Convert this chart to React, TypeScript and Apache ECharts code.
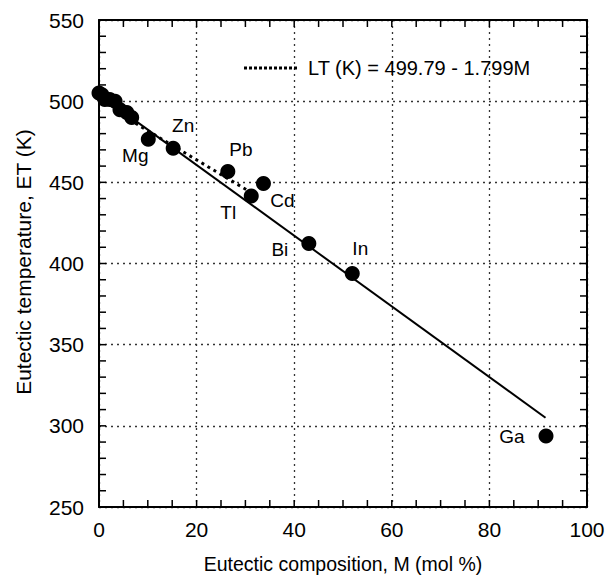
import React, { useEffect, useRef } from "react";
import * as echarts from "echarts";

// Unlabelled points near M = 0
const clusterM = [0.0, 0.6, 1.2, 2.2, 3.3, 4.3, 5.7, 6.7];
const clusterET = [505, 504, 501, 501, 500, 494.7, 493, 490];

// Labelled elements
const elements = ["Mg", "Zn", "Pb", "Cd", "Tl", "Bi", "In", "Ga"];
const elemM = [10.1, 15.2, 26.4, 33.7, 31.2, 43.0, 51.9, 91.6];
const elemET = [476.6, 471, 456.7, 449.3, 441.6, 412.3, 393.8, 293.8];
const labelOffsets: [number, number][] = [
  [-13, 16], [10, -23], [13, -22], [19, 17], [-23, 17], [-29, 6], [8, -25], [-34, 1],
];

// Solid fitted line endpoints
const solidM = [0, 91.5];
const solidET = [504.2, 305];
// Dotted line LT(K) = 499.79 - 1.799M endpoints
const dottedM = [5, 31.8];
const dottedET = [490.8, 442.6];

const xTicks = [0, 20, 40, 60, 80, 100];
const yTicks = [250, 300, 350, 400, 450, 500, 550];
// Inward tick marks on all four sides of the frame
const xTickMarks = [5, 10, 15, 20, 25, 30, 35, 40, 45, 50, 55, 60, 65, 70, 75, 80, 85, 90, 95];
const yTickMarks = [260, 270, 280, 290, 300, 310, 320, 330, 340, 350, 360, 370, 380, 390, 400,
  410, 420, 430, 440, 450, 460, 470, 480, 490, 500, 510, 520, 530, 540];

const FONT = "'Liberation Sans', Arial, Helvetica, sans-serif";
const TICK_LEN = 7;

export default function App() {
  const ref = useRef<HTMLDivElement>(null);
  useEffect(() => {
    if (!ref.current) return;
    const chart = echarts.init(ref.current, null, { renderer: "svg" });
    const gridLine = { show: true, lineStyle: { color: "#333", type: [2, 4], width: 1.3 } };
    const frameLine = { show: true, onZero: false, lineStyle: { color: "#000", width: 2 } };
    const xMin = xTicks[0];
    const xMax = xTicks[xTicks.length - 1];
    const yMin = yTicks[0];
    const yMax = yTicks[yTicks.length - 1];
    chart.setOption({
      animation: false,
      backgroundColor: "#fff",
      textStyle: { fontFamily: FONT },
      grid: { left: 99, top: 20, width: 488, height: 487, outerBoundsMode: "none" },
      xAxis: [
        {
          type: "value",
          min: xMin,
          max: xMax,
          interval: 20,
          axisLine: frameLine,
          axisTick: { show: false },
          axisLabel: { fontSize: 21, color: "#000", margin: 12, fontFamily: FONT },
          splitLine: gridLine,
          name: "Eutectic composition, M (mol %)",
          nameLocation: "middle",
          nameGap: 47,
          nameTextStyle: { fontSize: 19.5, color: "#000", fontFamily: FONT },
        },
        {
          type: "value",
          position: "top",
          min: xMin,
          max: xMax,
          interval: 20,
          axisLine: frameLine,
          axisTick: { show: false },
          axisLabel: { show: false },
          splitLine: { show: false },
        },
      ],
      yAxis: [
        {
          type: "value",
          min: yMin,
          max: yMax,
          interval: 50,
          axisLine: frameLine,
          axisTick: { show: false },
          axisLabel: { fontSize: 21, color: "#000", margin: 15, fontFamily: FONT },
          splitLine: gridLine,
        },
        {
          type: "value",
          position: "right",
          min: yMin,
          max: yMax,
          interval: 50,
          axisLine: frameLine,
          axisTick: { show: false },
          axisLabel: { show: false },
          splitLine: { show: false },
        },
      ],
      series: [
        {
          type: "line",
          data: solidM.map((m, i) => [m, solidET[i]]),
          symbol: "none",
          lineStyle: { color: "#000", width: 2 },
          z: 3,
        },
        {
          type: "line",
          data: dottedM.map((m, i) => [m, dottedET[i]]),
          symbol: "none",
          lineStyle: { color: "#000", width: 3, type: [3, 4] },
          z: 3,
        },
        {
          type: "scatter",
          data: clusterM.map((m, i) => [m, clusterET[i]]),
          symbolSize: 15,
          itemStyle: { color: "#000", opacity: 1 },
          z: 4,
        },
        {
          type: "scatter",
          data: elements.map((name, i) => ({
            value: [elemM[i], elemET[i]],
            name,
            label: {
              show: true,
              position: "inside",
              offset: labelOffsets[i],
              formatter: name,
              color: "#000",
              fontSize: 19,
              fontFamily: FONT,
            },
          })),
          symbolSize: 15,
          itemStyle: { color: "#000", opacity: 1 },
          z: 4,
        },
      ],
    });

    // Inward ticks on all four sides, positioned through the chart's own scales
    const tickStyle = { stroke: "#000", lineWidth: 1.5 };
    const ticks: any[] = [];
    xTickMarks.forEach((v) => {
      const b = chart.convertToPixel({ gridIndex: 0 }, [v, yMin]) as number[];
      const t = chart.convertToPixel({ gridIndex: 0 }, [v, yMax]) as number[];
      ticks.push({ type: "line", z: 10, shape: { x1: b[0], y1: b[1], x2: b[0], y2: b[1] - TICK_LEN }, style: tickStyle });
      ticks.push({ type: "line", z: 10, shape: { x1: t[0], y1: t[1], x2: t[0], y2: t[1] + TICK_LEN }, style: tickStyle });
    });
    yTickMarks.forEach((v) => {
      const l = chart.convertToPixel({ gridIndex: 0 }, [xMin, v]) as number[];
      const r = chart.convertToPixel({ gridIndex: 0 }, [xMax, v]) as number[];
      ticks.push({ type: "line", z: 10, shape: { x1: l[0], y1: l[1], x2: l[0] + TICK_LEN, y2: l[1] }, style: tickStyle });
      ticks.push({ type: "line", z: 10, shape: { x1: r[0], y1: r[1], x2: r[0] - TICK_LEN, y2: r[1] }, style: tickStyle });
    });

    chart.setOption({
      graphic: [
        {
          type: "text",
          x: 23,
          y: 262,
          rotation: Math.PI / 2,
          style: {
            text: "Eutectic temperature, ET (K)",
            fontSize: 21,
            fill: "#000",
            fontFamily: FONT,
            align: "center",
            verticalAlign: "middle",
          },
        },
        {
          type: "line",
          shape: { x1: 244, y1: 68, x2: 298, y2: 68 },
          style: { stroke: "#000", lineWidth: 3, lineDash: [3, 2] },
        },
        {
          type: "text",
          x: 308,
          y: 68,
          style: {
            text: "LT (K) = 499.79 - 1.799M",
            fontSize: 20,
            fill: "#000",
            fontFamily: FONT,
            verticalAlign: "middle",
          },
        },
        ...ticks,
      ],
    });
    return () => chart.dispose();
  }, []);
  return (
    <div
      ref={ref}
      style={{ position: "fixed", left: 0, top: 0, width: 608, height: 580, background: "#fff" }}
    />
  );
}
